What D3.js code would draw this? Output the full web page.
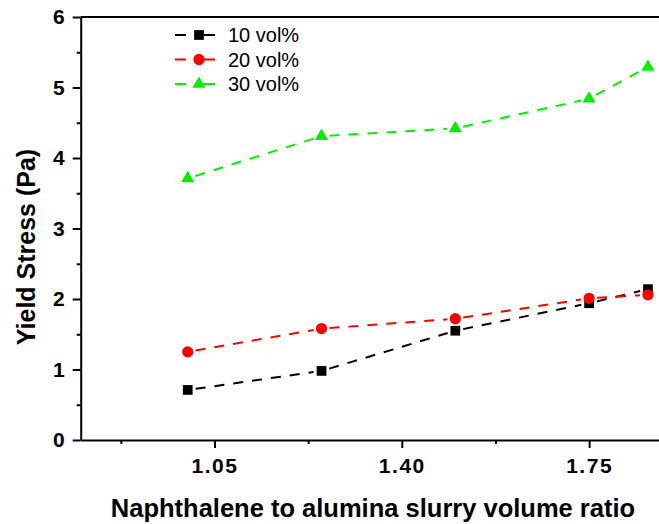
<!DOCTYPE html>
<html>
<head>
<meta charset="utf-8">
<script src="https://cdn.jsdelivr.net/npm/d3@7"></script>
<style>
  body { margin: 0; background: #fff; }
  svg { display: block; font-family: "Liberation Sans", Arial, sans-serif; }
</style>
</head>
<body>
<svg id="chart" width="659" height="524"></svg>
<script>
// ratio values on the x axis
const ratios = [1.0, 1.25, 1.5, 1.75, 1.86];

// yield stress (Pa) per solids loading
const vol10 = [0.71, 0.98, 1.55, 1.94, 2.14];
const vol20 = [1.25, 1.58, 1.72, 2.01, 2.06];
const vol30 = [3.71, 4.31, 4.42, 4.84, 5.29];

const seriesNames = ["10 vol%", "20 vol%", "30 vol%"];

const xMajorTicks = [1.05, 1.40, 1.75];
const xMinorTicks = [0.875, 1.225, 1.575];
const yMajorTicks = [0, 1, 2, 3, 4, 5, 6];
const yMinorTicks = [0.5, 1.5, 2.5, 3.5, 4.5, 5.5];

const svg = d3.select("#chart");
const width = 659;

let x = d3.scaleLinear().domain([0.8, 1.9]).range([80.7, 669.4]);
let y = d3.scaleLinear().domain([0, 6]).range([440, 17]);

// series styling
let styles = [
    {color: "#000000", symbol: d3.symbolSquare, size: 95},
    {color: "#ff0000", symbol: d3.symbolCircle, size: 100},
    {color: "#00f000", symbol: d3.symbolTriangle, size: 75}
];
let allSeries = [vol10, vol20, vol30];

/** axes */
let xAxis = svg.append("g")
    .attr("transform", "translate(0," + y(0) + ")")
    .call(d3.axisBottom(x).tickValues(xMajorTicks).tickSize(8).tickSizeOuter(0)
        .tickFormat(d3.format(".2f")));

svg.append("g")
    .attr("transform", "translate(0," + y(0) + ")")
    .call(d3.axisBottom(x).tickValues(xMinorTicks).tickSize(4).tickSizeOuter(0)
        .tickFormat(""))
    .select(".domain").remove();

let yAxis = svg.append("g")
    .attr("transform", "translate(" + x(0.8) + ",0)")
    .call(d3.axisLeft(y).tickValues(yMajorTicks).tickSize(8).tickSizeOuter(0)
        .tickFormat(d3.format("d")));

svg.append("g")
    .attr("transform", "translate(" + x(0.8) + ",0)")
    .call(d3.axisLeft(y).tickValues(yMinorTicks).tickSize(4).tickSizeOuter(0)
        .tickFormat(""))
    .select(".domain").remove();

svg.selectAll(".domain, .tick line")
    .attr("stroke", "#000")
    .attr("stroke-width", 2);

xAxis.selectAll(".tick text")
    .attr("font-size", 21).attr("font-weight", "bold")
    .attr("font-family", "Liberation Sans, Arial, sans-serif")
    .attr("letter-spacing", 1.5)
    .attr("dy", "0.71em").attr("y", 18);

yAxis.selectAll(".tick text")
    .attr("font-size", 21).attr("font-weight", "bold")
    .attr("font-family", "Liberation Sans, Arial, sans-serif")
    .attr("x", -16);

// top frame line
svg.append("line")
    .attr("x1", x(0.8)).attr("x2", width)
    .attr("y1", y(6)).attr("y2", y(6))
    .attr("stroke", "#000").attr("stroke-width", 2);

/** dashed lines, stopping short of each marker */
let gap = 8;
allSeries.forEach((vals, i) => {
    let g = svg.append("g");
    for (let k = 0; k < vals.length - 1; k++) {
        let x1 = x(ratios[k]), y1 = y(vals[k]);
        let x2 = x(ratios[k + 1]), y2 = y(vals[k + 1]);
        let len = Math.hypot(x2 - x1, y2 - y1);
        let ux = (x2 - x1) / len, uy = (y2 - y1) / len;
        g.append("line")
            .attr("x1", x1 + ux * gap).attr("y1", y1 + uy * gap)
            .attr("x2", x2 - ux * gap).attr("y2", y2 - uy * gap)
            .attr("stroke", styles[i].color)
            .attr("stroke-width", 2)
            .attr("stroke-dasharray", "10,9");
    }
    g.selectAll("path")
        .data(vals)
        .enter().append("path")
        .attr("d", d3.symbol().type(styles[i].symbol).size(styles[i].size))
        .attr("transform", (d, k) => "translate(" + x(ratios[k]) + "," + y(d) + ")")
        .attr("fill", styles[i].color);
});

/** legend */
let legend = svg.append("g");
seriesNames.forEach((name, i) => {
    let cy = 35 + i * 24.5;
    legend.append("line")
        .attr("x1", 175).attr("x2", 186).attr("y1", cy).attr("y2", cy)
        .attr("stroke", styles[i].color).attr("stroke-width", 2);
    legend.append("line")
        .attr("x1", 203).attr("x2", 215).attr("y1", cy).attr("y2", cy)
        .attr("stroke", styles[i].color).attr("stroke-width", 2);
    legend.append("path")
        .attr("d", d3.symbol().type(styles[i].symbol).size(styles[i].size))
        .attr("transform", "translate(199," + cy + ")")
        .attr("fill", styles[i].color);
    legend.append("text")
        .attr("x", 228).attr("y", cy + 7)
        .attr("font-size", 20)
        .text(name);
});

/** axis titles */
svg.append("text")
    .attr("x", 373).attr("y", 517)
    .attr("text-anchor", "middle")
    .attr("font-size", 25.5).attr("font-weight", "bold")
    .text("Naphthalene to alumina slurry volume ratio");

svg.append("text")
    .attr("transform", "translate(35,247) rotate(-90)")
    .attr("text-anchor", "middle")
    .attr("font-size", 25).attr("font-weight", "bold")
    .text("Yield Stress (Pa)");
</script>
</body>
</html>
